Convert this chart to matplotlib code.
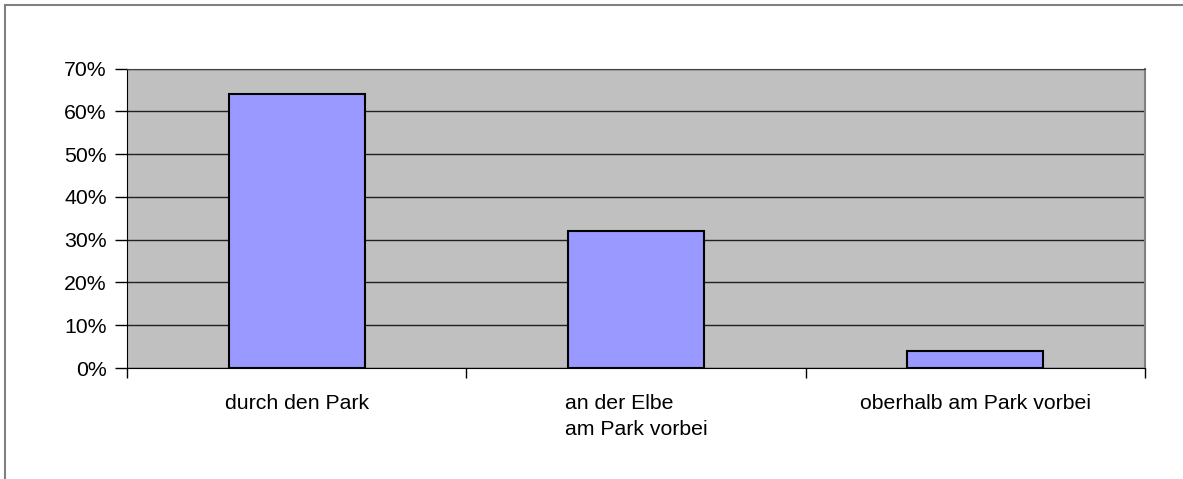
import numpy as np
import matplotlib.pyplot as plt
from matplotlib.patches import Rectangle
from matplotlib.ticker import PercentFormatter

categories = ["durch den Park", "an der Elbe\nam Park vorbei", "oberhalb am Park vorbei"]
shares = [64, 32, 4]
y_ticks = [0, 10, 20, 30, 40, 50, 60, 70]

plt.rcParams['font.family'] = ['Liberation Sans', 'DejaVu Sans']

fig = plt.figure(figsize=(11.83, 4.79), dpi=100)
# outer chart border (gray), only left/top visible in the reference
fig.patches.append(Rectangle((5 / 1183, -0.05), 1.2, 1 - 5 / 479 + 0.05,
                             transform=fig.transFigure, fill=False,
                             edgecolor='#808080', lw=1.5))

ax = fig.add_axes([127 / 1183, 111 / 479, 1018 / 1183, 299.5 / 479])
ax.set_facecolor('#C0C0C0')

x = np.arange(len(categories))
ax.bar(x, shares, width=0.4, color='#9999FF', edgecolor='black', lw=1.5, zorder=3)

ax.set_xlim(-0.5, len(categories) - 0.5)
ax.set_ylim(0, 70)
ax.set_yticks(y_ticks)
ax.yaxis.set_major_formatter(PercentFormatter(decimals=0))
ax.grid(axis='y', color='#202020', lw=1, zorder=1)
ax.set_axisbelow(True)

# category labels sit between boundary ticks
ax.set_xticks(x)
ax.set_xticklabels(categories, fontsize=15.3, multialignment='left', linespacing=1.45)
ax.tick_params(axis='x', length=0, pad=19)
ax.set_xticks(np.arange(len(categories) + 1) - 0.5, minor=True)
ax.tick_params(axis='x', which='minor', length=7, width=1, color='black', direction='out')
ax.tick_params(axis='y', length=8.5, width=1, color='black', labelsize=15.3, pad=6)

ax.spines['top'].set_color('#404040')
ax.spines['right'].set_color('#808080')
ax.spines['right'].set_linewidth(1.5)
ax.spines['left'].set_color('black')
ax.spines['bottom'].set_color('black')

fig.savefig('out.png', dpi=100)
